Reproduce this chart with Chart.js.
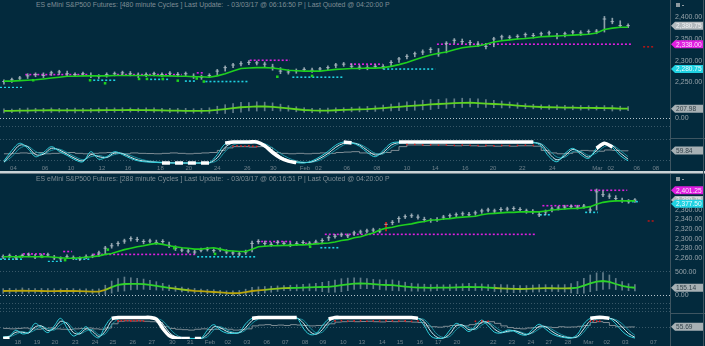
<!DOCTYPE html>
<html>
<head>
<meta charset="utf-8">
<script src="https://cdn.jsdelivr.net/npm/chart.js@4.4.1/dist/chart.umd.min.js"></script>
<style>
  html, body { margin: 0; padding: 0; background: #032a3d; }
  #wrap { position: relative; width: 705px; height: 346px; overflow: hidden; background: #032a3d;
          font-family: "Liberation Sans", Arial, sans-serif; }
  canvas { position: absolute; left: 0; }
  .title { position: absolute; left: 36px; font-size: 6.9px; color: #7f8d95; white-space: pre; line-height: 8px; }
  .rule { position: absolute; background: #3e5561; }
</style>
</head>
<body>
<div id="wrap">
  <div class="title" style="top:1px">ES eMini S&amp;P500 Futures: [480 minute Cycles ] Last Update:  - 03/03/17 @ 06:16:50 P | Last Quoted @ 04:20:00 P</div>
  <canvas id="topPrice" width="705" height="80" style="top:8px"></canvas>
  <canvas id="topInd" width="705" height="35" style="top:90px"></canvas>
  <canvas id="topCyc" width="705" height="47" style="top:125px"></canvas>

  <div class="rule" style="left:0;top:171px;width:705px;height:2px;background:#c9d2d6"></div>
  <div class="rule" style="left:0;top:173px;width:705px;height:1px;background:#6f7f88"></div>

  <div class="title" style="top:175px">ES eMini S&amp;P500 Futures: [288 minute Cycles ] Last Update:  - 03/03/17 @ 06:16:51 P | Last Quoted @ 04:20:00 P</div>
  <canvas id="botPrice" width="705" height="80" style="top:182px"></canvas>
  <canvas id="botInd" width="705" height="38" style="top:262px"></canvas>
  <canvas id="botCyc" width="705" height="46" style="top:300px"></canvas>

  <div class="rule" style="left:670px;top:0;width:1px;height:171px"></div>
  <div class="rule" style="left:670px;top:174px;width:1px;height:172px"></div>
  <div class="rule" style="left:703px;top:0;width:1px;height:346px"></div>
  <div class="rule" style="left:670px;top:138px;width:35px;height:1px"></div>
  <div class="rule" style="left:670px;top:313px;width:35px;height:1px"></div>
  <div class="rule" style="left:676px;top:3px;width:4px;height:4px;background:#8e9aa0"></div>
  <div class="rule" style="left:682px;top:5px;width:2px;height:1px;background:#8e9aa0"></div>
  <div class="rule" style="left:676px;top:177px;width:4px;height:4px;background:#8e9aa0"></div>
  <div class="rule" style="left:682px;top:179px;width:2px;height:1px;background:#8e9aa0"></div>
</div>
<script>
const _ = null;

// ---- 480 minute panel ----
const topDateTicks  = [1.2, 5.2, 8.5, 12.4, 15.7, 19.8, 23.4, 27, 30.8, 34.1, 38.1, 39.8, 43.4, 47.2, 51, 54.6, 58.4, 61.9, 65.6, 69.4, 75.1, 76.8, 80.1, 82.5];
const topDateLabels = ['04','06','10','12','16','18','20','24','26','30','Feb','02','06','08','10','14','16','20','22','24','Mar','02','06','08'];

const topClose = [2252,2256,2260,2265,2268,2266,2272,2274,2270,2268,
  2270,2266,2264,2268,2270,2272,2270,2266,2268,2270,
  2268,2271,2268,2270,2264,2262,2266,2276,2284,2290,
  2293,2296,2295,2292,2285,2276,2274,2277,2280,2278,
  2281,2284,2290,2292,2287,2285,2284,2287,2286,2296,
  2304,2310,2316,2320,2326,2316,2340,2347,2344,2342,
  2338,2333,2350,2355,2354,2356,2360,2358,2362,2364,
  2357,2362,2366,2364,2367,2368,2396,2390,2381,2380.75];
const topHigh = [2256,2260,2264,2270,2272,2272,2276,2278,2276,2272,
  2274,2272,2268,2272,2274,2276,2275,2272,2272,2274,
  2272,2275,2273,2274,2270,2267,2270,2280,2288,2294,
  2298,2300,2299,2297,2292,2284,2279,2281,2284,2283,
  2285,2288,2294,2296,2293,2290,2289,2291,2291,2300,
  2308,2314,2320,2325,2330,2328,2344,2351,2350,2347,
  2344,2340,2354,2359,2358,2360,2364,2363,2366,2368,
  2363,2366,2370,2369,2371,2372,2402,2398,2392,2385];
const topLow = [2246,2250,2254,2259,2263,2261,2266,2268,2265,2263,
  2265,2261,2259,2262,2265,2266,2265,2261,2263,2265,
  2263,2265,2263,2264,2259,2257,2261,2266,2276,2284,
  2288,2291,2290,2286,2278,2270,2269,2271,2275,2273,
  2276,2279,2284,2287,2282,2280,2279,2282,2281,2286,
  2296,2304,2309,2314,2318,2310,2318,2340,2339,2336,
  2333,2327,2332,2349,2348,2350,2354,2352,2356,2358,
  2350,2355,2360,2358,2361,2362,2366,2385,2376,2376];
const topMA = [2253,2253,2254,2255,2256,2258,2260,2262,2264,2264,
  2265,2265,2265,2265,2266,2266,2266,2266,2266,2266,
  2265,2265,2264,2264,2263,2263,2262,2265,2270,2276,
  2282,2283,2284,2284,2283,2281,2278,2277,2276,2276,
  2276,2278,2280,2281,2282,2282,2283,2283,2284,2287,
  2291,2296,2302,2308,2313,2317,2320,2325,2330,2332,
  2334,2338,2343,2346,2348,2350,2351,2353,2355,2356,
  2357,2358,2359,2360,2361,2364,2372,2375,2377,2377];
const topResStart = [2.7, 14.3, 24.4, 31.1, 43.8, 54.8];
const topResEnd   = [10.6, 22.5, 25.2, 36.2, 47.9, 79.6];
const topResLevel = [2268, 2268, 2272, 2301, 2292, 2338];
const topSupStart = [-0.5, 11.3, 18.5, 22.9, 25.5, 36.5, 48];
const topSupEnd   = [2.3, 14.1, 20.8, 24.2, 30.9, 42.9, 54.6];
const topSupLevel = [2238, 2255, 2257, 2253, 2252, 2262, 2280.75];
const topMarkStart = [80.9], topMarkEnd = [82.2], topMarkLevel = [2332];
const topSigX = [3.7, 10.9, 12.8, 17.1, 18.1, 20.1, 22, 24.4, 25.3, 34.6, 39];
const topSigY = [2255, 2255, 2248, 2258, 2258, 2258, 2254, 2259, 2252, 2263, 2265];

const topInd = [160,162,165,168,170,172,175,174,172,171,
  170,172,175,177,178,179,180,179,178,175,
  172,168,165,162,160,162,168,182,200,220,
  240,250,258,256,250,232,215,196,180,170,
  165,168,175,182,190,195,200,210,222,235,
  248,262,275,288,300,310,320,328,336,338,
  330,320,310,300,290,276,262,255,245,240,
  235,232,230,228,226,224,222,218,212,207.98];
const topIndSpan = [90,80,100,110,95,90,100,85,90,105,
  95,90,100,110,95,100,90,85,95,100,
  90,95,100,110,95,105,120,160,190,200,
  210,180,200,190,170,150,120,110,100,95,
  100,110,105,95,100,110,115,120,130,150,
  170,190,200,210,220,200,210,190,200,180,
  190,170,160,150,130,120,110,100,95,90,
  100,95,90,100,95,90,110,120,100,90];

const topCycA = [10,60,94,70,30,50,78,55,36,15,
  6,54,18,30,54,40,22,10,5,3,
  1,0,0,0,0,0,2,40,92,100,
  100,100,100,80,48,22,8,2,0,10,
  30,55,85,100,96,80,50,30,60,94,
  100,100,100,100,100,100,100,100,100,100,
  100,100,100,100,100,100,100,100,80,30,
  6,45,70,40,22,70,94,75,35,10];
const topCycB = [5,45,85,78,40,42,70,62,42,22,
  10,40,30,26,48,45,28,14,8,4,
  2,1,0,0,0,0,1,25,75,96,
  98,98,98,88,60,32,14,5,2,6,
  22,45,75,94,97,86,60,38,50,85,
  97,98,98,98,98,98,98,98,98,98,
  98,98,98,98,98,98,98,98,88,45,
  15,35,65,50,28,60,88,82,48,18];
const topCycC = [3,30,70,80,55,42,60,66,50,30,
  16,30,36,28,40,46,36,22,12,7,
  4,2,1,0,0,0,0,12,55,86,
  94,95,95,92,72,45,24,10,4,4,
  14,36,62,86,94,90,70,46,44,72,
  92,95,95,95,95,95,95,95,95,95,
  95,95,95,95,95,95,95,95,92,62,
  28,28,55,56,36,48,78,84,60,30];
const topCycMain = [_,_,_,_,_,_,_,_,_,_,
  _,_,_,_,_,_,_,_,_,_,
  0,0,0,0,0,0,0,_,95,100,
  100,100,100,82,50,24,9,2,_,_,
  _,_,_,100,96,_,_,_,_,_,
  100,100,100,100,100,100,100,100,100,100,
  100,100,100,100,100,100,100,100,_,_,
  _,_,_,_,_,70,94,76,_,_];
const topCycPrice = [44,46,48,46,50,44,46,48,50,46,
  44,46,48,50,46,44,48,46,45,44,
  46,48,46,44,46,48,50,60,72,78,
  78,76,78,74,50,46,44,46,44,46,
  48,46,50,52,54,48,46,44,50,60,
  78,86,86,84,86,86,84,82,84,82,
  80,82,80,82,80,82,82,80,60,48,
  44,46,52,60,58,56,62,60,58,59.84];
const topRedX = [29,29.5,30,30.5,31,31.5,32,51,52,53,54,55,56,57,58,59,60,61,62,63,64,65,66,67];
const topRedY = [80,82,81,80,82,80,79,88,88,86,87,85,86,84,86,85,83,84,82,84,83,84,85,84];

// ---- 288 minute panel ----
const botDateTicks  = [2.3,5.3,8.1,11.3,14.4,17.2,20.3,23.3,26.5,29.3,32.4,35.2,38.2,41.3,44.2,47.3,50.1,53.3,56.2,59.4,62.2,65.3,68.2,71.1,76.8,79.7,82.7,85.5,88.5,91.7,94.6,97.5,101.9];
const botDateLabels = ['18','19','20','23','24','25','26','27','30','31','Feb','02','03','06','07','08','09','10','13','14','15','16','17','20','22','23','24','27','28','Mar','02','03','07'];

const botClose = [2262,2264,2260,2265,2266,2262,2264,2266,2260,2258,
  2262,2260,2258,2262,2264,2270,2280,2285,2290,2295,
  2300,2298,2294,2295,2292,2294,2286,2280,2276,2274,
  2272,2276,2278,2275,2277,2272,2270,2268,2272,2290,
  2294,2290,2288,2292,2290,2287,2290,2292,2290,2293,
  2296,2302,2305,2308,2306,2312,2314,2316,2318,2316,
  2330,2334,2342,2346,2348,2345,2340,2338,2340,2345,
  2348,2350,2352,2350,2354,2358,2360,2358,2361,2362,
  2363,2361,2358,2357,2350,2356,2362,2364,2366,2367,
  2366,2368,2360,2398,2392,2389,2384,2380,2378,2380.75];
const botHigh = [2266,2268,2265,2268,2270,2267,2268,2270,2265,2262,
  2266,2264,2262,2266,2268,2274,2284,2290,2294,2299,
  2304,2303,2298,2299,2297,2298,2293,2285,2281,2278,
  2277,2280,2282,2279,2281,2277,2274,2273,2276,2295,
  2298,2295,2292,2296,2294,2292,2294,2296,2294,2297,
  2300,2306,2309,2312,2310,2316,2318,2320,2322,2321,
  2334,2338,2346,2350,2352,2350,2345,2342,2344,2349,
  2352,2354,2356,2355,2358,2362,2364,2362,2365,2366,
  2367,2365,2362,2361,2356,2360,2366,2368,2370,2371,
  2370,2372,2366,2404,2400,2394,2390,2385,2382,2384];
const botLow = [2258,2260,2256,2261,2262,2258,2260,2262,2256,2254,
  2258,2256,2254,2258,2260,2263,2268,2280,2285,2290,
  2295,2294,2289,2291,2288,2290,2281,2275,2272,2270,
  2268,2272,2274,2271,2273,2268,2266,2264,2267,2272,
  2289,2286,2284,2288,2286,2283,2286,2288,2286,2289,
  2292,2296,2301,2304,2302,2307,2310,2312,2314,2312,
  2316,2329,2334,2342,2344,2341,2335,2334,2336,2340,
  2344,2346,2348,2346,2349,2353,2356,2354,2357,2358,
  2359,2357,2353,2352,2346,2350,2356,2360,2362,2363,
  2362,2364,2356,2360,2388,2384,2379,2376,2374,2376];
const botMA = [2262,2262,2262,2262,2262,2262,2262,2262,2261,2260,
  2259,2259,2260,2261,2262,2264,2267,2269,2273,2277,
  2280,2283,2285,2288,2290,2288,2285,2283,2281,2280,
  2278,2278,2280,2281,2278,2275,2274,2273,2273,2278,
  2283,2284,2285,2285,2286,2286,2287,2287,2288,2289,
  2290,2291,2293,2296,2298,2302,2304,2308,2312,2318,
  2322,2324,2327,2329,2331,2334,2336,2339,2339,2341,
  2342,2344,2345,2346,2347,2350,2352,2353,2354,2355,
  2355,2356,2356,2356,2356,2358,2360,2361,2362,2363,
  2363,2365,2367,2372,2376,2378,2379,2379,2379,2379];
const botRedBars = [60];
const botResStart = [3.1, 9.4, 14.1, 39.8, 47.3, 50.4, 84.5, 92];
const botResEnd   = [6.6, 10.8, 30.1, 45.3, 50.1, 83.4, 90.4, 97.8];
const botResLevel = [2268, 2273, 2267, 2294, 2290, 2309, 2369, 2401.25];
const botSupStart = [-0.5, 7, 11.3, 30.4, 49.7, 84.1, 91.2, 97.9];
const botSupEnd   = [3.1, 9.4, 13.6, 39.8, 52.8, 85.7, 93.2, 99.8];
const botSupLevel = [2257, 2252, 2257, 2262, 2281, 2350, 2355, 2377.5];
const botMarkStart = [101], botMarkEnd = [102.2], botMarkLevel = [2337];
const botSigX = [2.6, 6.1, 9.7, 16.4, 26.8, 33.2, 48.1];
const botSigY = [2262, 2262, 2255, 2277, 2280, 2268, 2283];

const botInd = [86,88,90,92,90,88,86,84,85,86,
  88,86,82,78,74,72,110,170,215,236,
  240,238,232,215,196,175,155,135,118,102,
  90,82,74,64,55,44,38,42,60,86,
  100,112,124,136,146,150,155,160,165,170,
  172,175,190,210,228,245,250,245,235,222,
  215,210,195,180,168,160,157,155,157,158,
  160,164,168,172,170,168,160,150,142,135,
  130,129,132,138,144,146,145,144,143,145,
  160,200,250,285,300,280,236,196,168,155.14];
const botIndSpan = [100,110,90,120,100,95,110,105,100,90,
  110,100,95,105,100,120,200,260,280,300,
  260,240,220,200,180,150,120,110,100,90,
  100,95,90,100,95,90,100,110,130,160,
  150,140,130,120,110,120,130,140,150,160,
  200,240,260,280,270,250,230,220,200,210,
  220,230,210,190,170,160,150,140,130,120,
  130,140,150,160,150,140,130,150,160,170,
  160,150,140,150,160,150,140,150,160,200,
  260,320,360,380,360,300,240,180,150,140];

const botCycA = [8,12,40,22,30,72,50,28,60,96,
  50,12,30,56,20,4,60,98,100,100,
  100,100,100,100,92,45,12,2,0,0,
  0,0,40,66,40,26,24,30,70,96,
  100,100,100,100,100,100,100,50,20,22,
  60,92,100,100,100,100,100,100,100,100,
  100,100,100,100,100,96,60,12,0,4,
  40,72,55,33,60,88,60,30,26,40,
  36,20,17,45,68,45,22,10,4,2,
  20,70,96,100,100,96,70,35,12,2];
const botCycB = [5,10,30,30,26,55,60,38,48,82,
  70,28,22,46,34,10,35,85,98,98,
  98,98,98,98,96,70,30,8,1,0,
  0,0,20,55,52,34,26,28,52,86,
  98,98,98,98,98,98,98,75,35,20,
  42,80,96,98,98,98,98,98,98,98,
  98,98,98,98,98,97,80,35,6,2,
  22,60,64,42,48,78,74,45,28,34,
  38,28,18,32,58,56,34,16,7,3,
  10,46,85,98,98,97,84,55,24,6];
const botCycC = [4,8,20,32,28,40,58,46,40,66,
  76,44,22,36,42,18,22,65,92,95,
  95,95,95,95,95,84,50,20,5,1,
  0,0,8,40,56,42,30,27,40,72,
  92,95,95,95,95,95,95,88,55,28,
  30,64,88,95,95,95,95,95,95,95,
  95,95,95,95,95,95,90,58,20,5,
  10,42,62,52,42,64,76,58,36,30,
  36,32,22,26,46,58,44,26,12,5,
  6,30,70,92,95,95,90,70,40,15];
const botCycMain = [0,2,_,_,_,_,_,_,_,_,
  _,_,_,_,_,_,_,96,100,100,
  100,100,100,100,92,48,14,2,0,0,
  0,0,_,_,_,_,_,_,_,96,
  100,100,100,100,100,100,100,_,_,_,
  _,92,100,100,100,100,100,100,100,100,
  100,100,100,100,100,96,_,_,_,_,
  _,_,_,_,_,_,_,_,_,_,
  _,_,_,_,_,_,_,_,_,_,
  _,_,96,100,100,96,_,_,_,_];
const botCycPrice = [48,46,48,50,46,44,48,50,46,44,
  42,46,48,50,46,44,50,70,82,84,
  83,84,82,80,76,56,48,44,42,40,
  44,46,42,44,48,44,40,42,46,60,
  64,66,62,64,62,66,64,62,60,62,
  64,70,78,80,82,80,81,82,80,79,
  81,80,82,80,78,76,60,56,54,58,
  62,64,60,66,72,80,80,72,60,52,
  48,46,50,52,56,54,52,56,54,55,
  58,62,76,80,76,62,56,54,55,55.69];
const botRedX = [18,18.5,19,19.5,20,20.5,21,21.5,22,52,53,54,55,56,57,58,59,60,61,62,63,64,65,74,75,76,92,92.5,93,93.5];
const botRedY = [84,85,86,85,84,86,85,84,83,84,85,83,84,85,82,84,83,85,84,83,84,82,83,82,84,82,82,84,83,82];

// ---- styling ----
const FONT = '"Liberation Sans", Arial, sans-serif';
const GREY_BAR = 'rgba(178,190,198,0.8)';
const GREEN = '#1fd01f';
const MAGENTA = '#e01fe0';
const CYAN = '#1fd2e2';
const RED = '#e21c1c';

Chart.defaults.font.family = FONT;
Chart.defaults.animation = false;
Chart.defaults.events = [];

const fmt = v => Number(v).toLocaleString('en-US', {minimumFractionDigits: 2, maximumFractionDigits: 2});
const pts = arr => arr.map((v, i) => ({x: i, y: v}));
const xy = (xs, ys) => xs.map((x, i) => ({x: x, y: ys[i]}));
const last = arr => arr[arr.length - 1];

function levelSets(starts, ends, levels, color, width) {
  return levels.map((lv, k) => ({
    type: 'line',
    data: [{x: starts[k], y: lv}, {x: ends[k], y: lv}],
    borderColor: color, borderWidth: width || 1.6, borderDash: [2, 2],
    pointRadius: 0
  }));
}

function rangeBars(lo, hi, color) {
  return {
    type: 'bar',
    data: hi.map((h, i) => ({x: i, y: [lo[i], h]})),
    backgroundColor: color, barThickness: 1, grouped: false
  };
}

// value boxes on the right axis
function calloutPlugin(items) {
  return {
    id: 'callouts',
    afterDraw(chart) {
      const ctx = chart.ctx;
      const ys = chart.scales.y;
      const x0 = chart.chartArea.right;
      const list = items.map(it => Object.assign({}, it, {py: ys.getPixelForValue(it.value)}))
                        .sort((a, b) => a.py - b.py);
      let prev = -1e9;
      ctx.save();
      ctx.font = '6.6px ' + FONT;
      ctx.textBaseline = 'middle';
      list.forEach(it => {
        const py = Math.max(it.py, prev + 3.6);
        prev = py;
        ctx.fillStyle = it.fill;
        ctx.beginPath();
        ctx.moveTo(x0 + 1, py);
        ctx.lineTo(x0 + 5, py - 4);
        ctx.lineTo(x0 + 33, py - 4);
        ctx.lineTo(x0 + 33, py + 4);
        ctx.lineTo(x0 + 5, py + 4);
        ctx.closePath();
        ctx.fill();
        ctx.fillStyle = it.text;
        ctx.fillText(fmt(it.value), x0 + 6, py + 0.5);
      });
      ctx.restore();
    }
  };
}

function pane(id, cfg) {
  const yAxis = {
    position: 'right', min: cfg.yMin, max: cfg.yMax, beginAtZero: false,
    afterFit: s => { s.width = 35; s.paddingTop = 0; s.paddingBottom = 0; },
    afterBuildTicks: s => { s.ticks = cfg.yTicks.map(v => ({value: v})); },
    ticks: {
      color: '#97a3aa', font: {size: 7}, padding: 5,
      callback: cfg.yLabel || (v => fmt(v))
    },
    grid: { display: !!cfg.yGrid, drawTicks: false, lineWidth: 1, color: cfg.yGrid || 'transparent' },
    border: { display: false, dash: [1, 2] }
  };
  const xAxis = {
    type: 'linear', min: cfg.xMin, max: cfg.xMax, offset: false,
    display: !!cfg.xTicks,
    grid: { display: false, drawTicks: false, offset: false },
    border: { display: false }
  };
  if (cfg.xTicks) {
    xAxis.afterFit = s => { s.height = 7; s.paddingLeft = 0; s.paddingRight = 0; };
    xAxis.afterBuildTicks = s => { s.ticks = cfg.xTicks.map(v => ({value: v})); };
    xAxis.ticks = {
      color: '#70818b', font: {size: 6}, padding: 0, maxRotation: 0, autoSkip: false,
      callback: (v, i) => cfg.xLabels[i]
    };
  }
  return new Chart(document.getElementById(id), {
    type: 'line',
    data: { datasets: cfg.datasets },
    options: {
      responsive: false, devicePixelRatio: 1,
      layout: { padding: 0, autoPadding: false },
      scales: { x: xAxis, y: yAxis },
      plugins: { legend: { display: false }, tooltip: { enabled: false } }
    },
    plugins: cfg.callouts ? [calloutPlugin(cfg.callouts)] : []
  });
}

function priceSets(close, high, low, ma, sigX, sigY, redBars) {
  const bars = rangeBars(low, high, GREY_BAR);
  if (redBars) bars.backgroundColor = ctx => redBars.includes(ctx.dataIndex) ? RED : GREY_BAR;
  return [
    { data: pts(ma), borderColor: GREEN, borderWidth: 1.6, pointRadius: 0 },
    { data: xy(sigX, sigY), showLine: false, pointStyle: 'rect', pointRadius: 1.8,
      backgroundColor: GREEN, borderWidth: 0 },
    { data: pts(close), showLine: false, pointStyle: 'line', pointRadius: 1.8,
      borderColor: GREY_BAR, borderWidth: 1 },
    bars
  ];
}

function cycleSets(a, b, c, main, price, redX, redY) {
  const thin = (d, col) => ({ data: pts(d), borderColor: col, borderWidth: 1, pointRadius: 0, tension: 0.35 });
  return [
    { data: xy(redX, redY), showLine: false, pointStyle: 'rect', pointRadius: 1.1,
      backgroundColor: RED, borderWidth: 0 },
    { data: pts(main), borderColor: '#ffffff', borderWidth: 3.6, pointRadius: 0, tension: 0.3, spanGaps: false,
      segment: { borderDash: s => (s.p0.parsed.y === 0 && s.p1.parsed.y === 0) ? [8, 5] : undefined } },
    thin(a, '#2fcfdc'),
    thin(b, '#cfeef2'),
    thin(c, '#1b93a3'),
    { data: pts(price), borderColor: '#7f8d95', borderWidth: 1, pointRadius: 0, stepped: true }
  ];
}

// 480 minute panel
pane('topPrice', {
  xMin: -0.5, xMax: 84.3, yMin: 2237.1, yMax: 2421.4,
  yTicks: [2250, 2300, 2350, 2400],
  datasets: [
    ...priceSets(topClose, topHigh, topLow, topMA, topSigX, topSigY),
    ...levelSets(topResStart, topResEnd, topResLevel, MAGENTA),
    ...levelSets(topSupStart, topSupEnd, topSupLevel, CYAN),
    ...levelSets(topMarkStart, topMarkEnd, topMarkLevel, '#b01818')
  ],
  callouts: [
    { value: last(topClose), fill: '#b2b9bd', text: '#f2f4f5' },
    { value: last(topResLevel), fill: MAGENTA, text: '#fbe3fb' },
    { value: last(topSupLevel), fill: CYAN, text: '#ecfcfd' }
  ]
});
pane('topInd', {
  xMin: -0.5, xMax: 84.3, yMin: -145.4, yMax: 614.1,
  yTicks: [0],
  yGrid: ctx => ctx.tick && ctx.tick.value === 0 ? 'rgba(215,225,230,0.85)' : 'transparent',
  datasets: [
    { data: pts(topInd), borderColor: '#5fd421', borderWidth: 1.8, pointRadius: 0 },
    rangeBars(topInd.map((v, i) => v - topIndSpan[i] / 2), topInd.map((v, i) => v + topIndSpan[i] / 2),
              'rgba(215,225,230,0.45)')
  ],
  callouts: [{ value: last(topInd), fill: '#a7b0b4', text: '#34434b' }]
});
pane('topCyc', {
  xMin: -0.5, xMax: 84.3, yMin: -9.5, yMax: 181,
  yTicks: [14, 46, 110, 141, 172], yLabel: () => '',
  yGrid: 'rgba(160,175,185,0.35)',
  xTicks: topDateTicks, xLabels: topDateLabels,
  datasets: cycleSets(topCycA, topCycB, topCycC, topCycMain, topCycPrice, topRedX, topRedY),
  callouts: [{ value: last(topCycPrice), fill: '#a7b0b4', text: '#34434b' }]
});

// 288 minute panel
const indColor = v => v < 110 ? '#b9a50c' : (v < 150 ? '#8ec51e' : '#2fd32a');
pane('botPrice', {
  xMin: -0.5, xMax: 104.5, yMin: 2251.1, yMax: 2418.6,
  yTicks: [2260, 2280, 2300, 2320, 2340, 2360],
  datasets: [
    ...priceSets(botClose, botHigh, botLow, botMA, botSigX, botSigY, botRedBars),
    ...levelSets(botResStart, botResEnd, botResLevel, MAGENTA),
    ...levelSets(botSupStart, botSupEnd, botSupLevel, CYAN),
    ...levelSets(botMarkStart, botMarkEnd, botMarkLevel, '#b01818')
  ],
  callouts: [
    { value: last(botResLevel), fill: MAGENTA, text: '#fbe3fb' },
    { value: last(botClose), fill: '#b2b9bd', text: '#f2f4f5' },
    { value: last(botSupLevel), fill: CYAN, text: '#ecfcfd' }
  ]
});
pane('botInd', {
  xMin: -0.5, xMax: 104.5, yMin: -107.3, yMax: 708.2,
  yTicks: [0, 500],
  yGrid: ctx => ctx.tick && ctx.tick.value === 0 ? 'rgba(215,225,230,0.85)' : 'rgba(160,175,185,0.35)',
  datasets: [
    { data: pts(botInd), borderWidth: 1.8, pointRadius: 0, borderColor: '#2fd32a',
      segment: { borderColor: s => indColor((s.p0.parsed.y + s.p1.parsed.y) / 2) } },
    rangeBars(botInd.map((v, i) => v - botIndSpan[i] / 2), botInd.map((v, i) => v + botIndSpan[i] / 2),
              'rgba(215,225,230,0.45)')
  ],
  callouts: [{ value: last(botInd), fill: '#a7b0b4', text: '#34434b' }]
});
pane('botCyc', {
  xMin: -0.5, xMax: 104.5, yMin: -2.4, yMax: 183.3,
  yTicks: [51, 128, 145, 169], yLabel: () => '',
  yGrid: 'rgba(160,175,185,0.35)',
  xTicks: botDateTicks, xLabels: botDateLabels,
  datasets: cycleSets(botCycA, botCycB, botCycC, botCycMain, botCycPrice, botRedX, botRedY),
  callouts: [{ value: last(botCycPrice), fill: '#a7b0b4', text: '#34434b' }]
});
</script>
</body>
</html>
